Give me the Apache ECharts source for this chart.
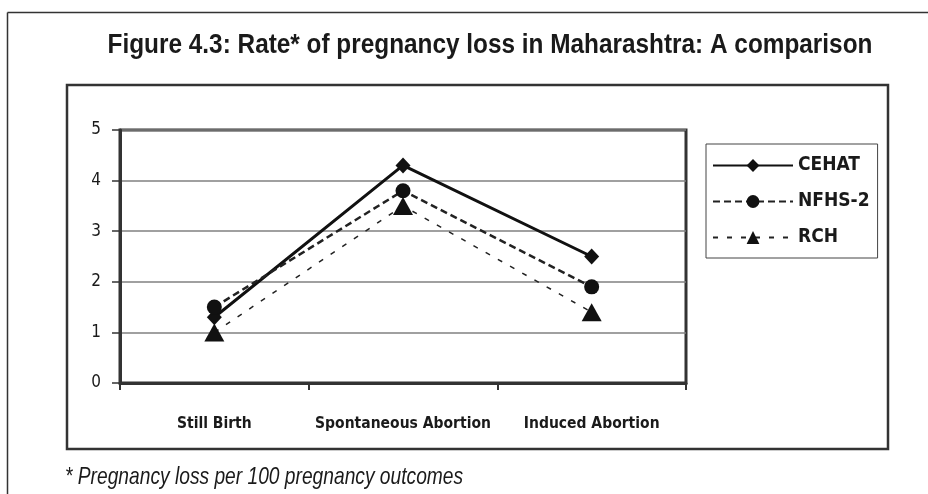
<!DOCTYPE html>
<html>
<head>
<meta charset="utf-8">
<script src="https://cdn.jsdelivr.net/npm/echarts@6/dist/echarts.min.js"></script>
<style>
html,body{margin:0;padding:0;background:#fff;}
#main{width:928px;height:494px;}
</style>
</head>
<body>
<div id="main"></div>
<script>
var categories = ['Still Birth', 'Spontaneous Abortion', 'Induced Abortion'];
var seriesNames = ['CEHAT', 'NFHS-2', 'RCH'];
var cehat = [1.3, 4.3, 2.5];
var nfhs2 = [1.5, 3.8, 1.9];
var rch = [1.0, 3.5, 1.4];
var yTicks = [0, 1, 2, 3, 4, 5];
var titleText = 'Figure 4.3: Rate* of pregnancy loss in Maharashtra: A comparison';
var footnoteText = '* Pregnancy loss per 100 pregnancy outcomes';

var COND = '"DejaVu Sans Condensed", "Liberation Sans Narrow", sans-serif';
var SANS = '"Liberation Sans", Arial, sans-serif';
var chart = echarts.init(document.getElementById('main'), null, {renderer: 'canvas'});

chart.setOption({
  backgroundColor: '#fff',
  animation: false,
  graphic: [
    {type: 'line', shape: {x1: 7.5, y1: 12.5, x2: 928, y2: 12.5}, style: {stroke: '#333', lineWidth: 1.5}},
    {type: 'line', shape: {x1: 7.5, y1: 12.5, x2: 7.5, y2: 494}, style: {stroke: '#333', lineWidth: 1.5}},
    {type: 'rect', shape: {x: 67, y: 85, width: 821, height: 364}, style: {fill: 'none', stroke: '#333', lineWidth: 2.5}},
    {type: 'text', x: 490, y: 45, scaleX: 0.87, z: 10,
      style: {text: titleText, font: 'bold 28px ' + SANS, fill: '#1a1a1a', textAlign: 'center', textVerticalAlign: 'middle'}},
    {type: 'text', x: 65, y: 477, scaleX: 0.8, z: 10,
      style: {text: footnoteText, font: 'italic 24px ' + SANS, fill: '#1a1a1a', textAlign: 'left', textVerticalAlign: 'middle'}}
  ],
  legend: {
    orient: 'vertical',
    left: 706,
    top: 144,
    data: seriesNames,
    itemWidth: 80,
    itemHeight: 16,
    itemGap: 17,
    padding: [12, 8, 11, 6],
    backgroundColor: '#fff',
    borderColor: '#444',
    borderWidth: 1,
    textStyle: {fontFamily: COND, fontWeight: 'bold', fontSize: 19, color: '#1a1a1a'}
  },
  grid: {
    left: 120, top: 130, right: 242, bottom: 111,
    show: true, borderColor: '#333', borderWidth: 3, backgroundColor: '#fff'
  },
  xAxis: {
    type: 'category',
    data: categories,
    boundaryGap: true,
    axisLine: {show: true, lineStyle: {color: '#333', width: 3}},
    axisTick: {show: true, length: 7, lineStyle: {color: '#333', width: 2}},
    axisLabel: {interval: 0, margin: 41, verticalAlign: 'middle', fontFamily: COND, fontWeight: 'bold', fontSize: 15.5, color: '#1a1a1a'}
  },
  yAxis: {
    type: 'value',
    min: yTicks[0], max: yTicks[yTicks.length - 1], interval: 1,
    axisLine: {show: true, lineStyle: {color: '#333', width: 3}},
    axisTick: {show: true, length: 8, lineStyle: {color: '#333', width: 1.5}},
    splitLine: {show: true, lineStyle: {color: '#808080', width: 1.5}},
    axisLabel: {margin: 19, fontFamily: COND, fontSize: 17, color: '#1a1a1a'}
  },
  series: [
    {
      name: seriesNames[0], type: 'line', data: cehat,
      symbol: 'diamond', symbolSize: [15, 16],
      lineStyle: {color: '#111', width: 3, type: 'solid'},
      itemStyle: {color: '#111'}
    },
    {
      name: seriesNames[1], type: 'line', data: nfhs2,
      symbol: 'circle', symbolSize: 15,
      lineStyle: {color: '#222', width: 2.5, type: [7, 4]},
      itemStyle: {color: '#111'}
    },
    {
      name: seriesNames[2], type: 'line', data: rch,
      symbol: 'triangle', symbolSize: [20, 18],
      lineStyle: {color: '#222', width: 1.5, type: [5, 9]},
      itemStyle: {color: '#111'}
    }
  ]
});
</script>
</body>
</html>
